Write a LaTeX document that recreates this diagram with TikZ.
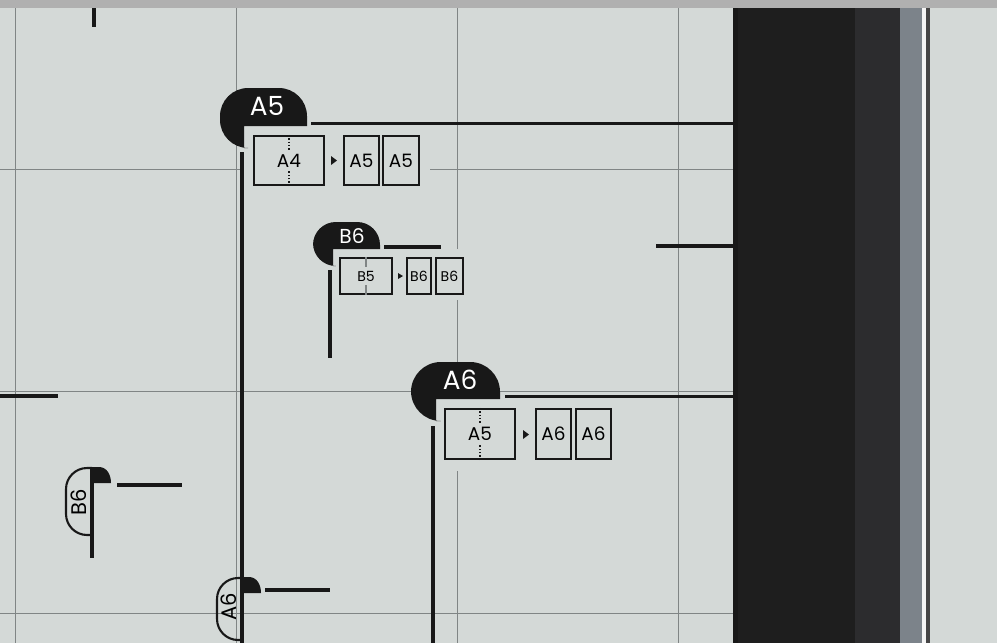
\documentclass[tikz,border=0pt]{standalone}
\usepackage{fontspec}
\setmainfont{Poppins}
\definecolor{board}{RGB}{212,217,215}
\definecolor{gridgray}{RGB}{128,133,133}
\definecolor{ink}{RGB}{24,24,24}
\definecolor{bar}{RGB}{30,30,30}
\definecolor{barlight}{RGB}{44,44,46}
\definecolor{rail}{RGB}{124,131,138}

\begin{document}
\begin{tikzpicture}[
    x=0.02cm, y=-0.02cm,
    gridline/.style={gridgray, line width=0.55pt},
    guide/.style={ink, line width=1.8pt},
    tabfill/.style={fill=ink},
    tabtext/.style={text=white, font=\fontsize{15}{15}\selectfont, inner sep=0pt},
    sheet/.style={draw=ink, line width=1.3pt, minimum height=0.98cm, inner sep=0pt, font=\fontsize{10.5}{10}\selectfont},
    smallsheet/.style={draw=ink, line width=0.9pt, minimum height=0.72cm, inner sep=0pt, font=\fontsize{8}{8}\selectfont},
    sidetab/.style={draw=ink, line width=1.2pt},
    fold/.style={ink, line width=0.9pt, densely dotted},
]
    \useasboundingbox (0,0) rectangle (997,643);
    % board, top edge and the dark rail
    \fill[board] (0,0) rectangle (997,643);
    \fill[gray!62] (0,0) rectangle (997,8);
    \fill[ink] (733,8) rectangle (738,643);
    \fill[bar] (738,8) rectangle (855,643);
    \fill[barlight] (855,8) rectangle (900,643);
    \fill[rail] (900,8) rectangle (922,643);
    \fill[white!92!gray] (922,8) rectangle (926,643);
    \fill[ink!80] (926,8) rectangle (930,643);

    % grid
    \foreach \gx in {15,236,457,678}
        \draw[gridline] (\gx,8) -- (\gx,643);
    \foreach \gy in {169,391,613}
        \draw[gridline] (0,\gy) -- (733,\gy);
    \fill[board] (244,126) rectangle (430,195);
    \fill[board] (333,249) rectangle (470,300);
    \fill[board] (436,399) rectangle (620,471);

    % loose guide marks
    \draw[guide] (94,8) -- (94,27);
    \draw[guide] (0,396) -- (58,396);
    \draw[guide] (656,246) -- (733,246);

    % A5 tab
    \fill[tabfill] (244,148) [rounded corners=16] -- (220,148) -- (220,88) -- (307,88) [sharp corners] -- (307,126) -- (244,126) -- cycle;
    \node[tabtext] (tabA5) at (267,106) {A5};
    \draw[guide] (311,123.5) -- (733,123.5);
    \draw[guide] (242,152) -- (242,643);
    \node[sheet, minimum width=1.4cm] (a5from) at (289,160.5) {A4};
    \draw[fold] (a5from.north) -- ++(0,15) (a5from.south) -- ++(0,-15);
    \fill[ink] (331,156) -- (337,160.5) -- (331,165) -- cycle;
    \node[sheet, minimum width=0.7cm] (a5one) at (361.5,160.5) {A5};
    \node[sheet, minimum width=0.72cm] (a5two) at (401,160.5) {A5};

    % B6 tab
    \fill[tabfill] (333,266) [rounded corners=13] -- (313,266) -- (313,222) -- (380,222) [sharp corners] -- (380,249) -- (333,249) -- cycle;
    \node[tabtext, font=\fontsize{11.5}{11}\selectfont] (tabB6) at (352,236) {B6};
    \draw[guide] (384,247) -- (441,247);
    \draw[guide] (330,270) -- (330,358);
    \node[smallsheet, minimum width=1.04cm] (b6from) at (366,276) {B5};
    \draw[gridgray, line width=0.6pt] (b6from.north) -- ++(0,10) (b6from.south) -- ++(0,-10);
    \fill[ink] (398,273) -- (403,276) -- (398,279) -- cycle;
    \node[smallsheet, minimum width=0.48cm] (b6one) at (419,276) {B6};
    \node[smallsheet, minimum width=0.54cm] (b6two) at (449.5,276) {B6};

    % A6 tab
    \fill[tabfill] (436,421) [rounded corners=17] -- (411,421) -- (411,362) -- (500,362) [sharp corners] -- (500,399) -- (436,399) -- cycle;
    \node[tabtext] (tabA6) at (460,380) {A6};
    \draw[guide] (505,396.5) -- (733,396.5);
    \draw[guide] (433,426) -- (433,643);
    \node[sheet, minimum width=1.4cm, minimum height=1cm] (a6from) at (480,434) {A5};
    \draw[fold] (a6from.north) -- ++(0,15) (a6from.south) -- ++(0,-15);
    \fill[ink] (523,430) -- (529,434.5) -- (523,439) -- cycle;
    \node[sheet, minimum width=0.7cm, minimum height=1cm] (a6one) at (553.5,434) {A6};
    \node[sheet, minimum width=0.7cm, minimum height=1cm] (a6two) at (593.5,434) {A6};

    % B6 side tab
    \draw[sidetab] (92,468) [rounded corners=12] -- (66,468) -- (66,535) [sharp corners] -- (92,535);
    \fill[ink] (92,467) -- (99,467) .. controls (107,467) and (111,475) .. (111,483) -- (92,483) -- cycle;
    \draw[guide] (92,467) -- (92,558);
    \draw[guide] (117,485) -- (182,485);
    \node[rotate=90, font=\fontsize{12}{12}\selectfont, inner sep=0pt] (sideB6) at (79,502) {B6};

    % A6 side tab
    \draw[sidetab] (242,578) [rounded corners=12] -- (217,578) -- (217,640) [sharp corners] -- (242,640);
    \fill[ink] (242,577) -- (249,577) .. controls (257,577) and (261,585) .. (261,593) -- (242,593) -- cycle;
    \draw[guide] (265,590) -- (330,590);
    \node[rotate=90, font=\fontsize{12}{12}\selectfont, inner sep=0pt] (sideA6) at (229,607) {A6};
\end{tikzpicture}
\end{document}
